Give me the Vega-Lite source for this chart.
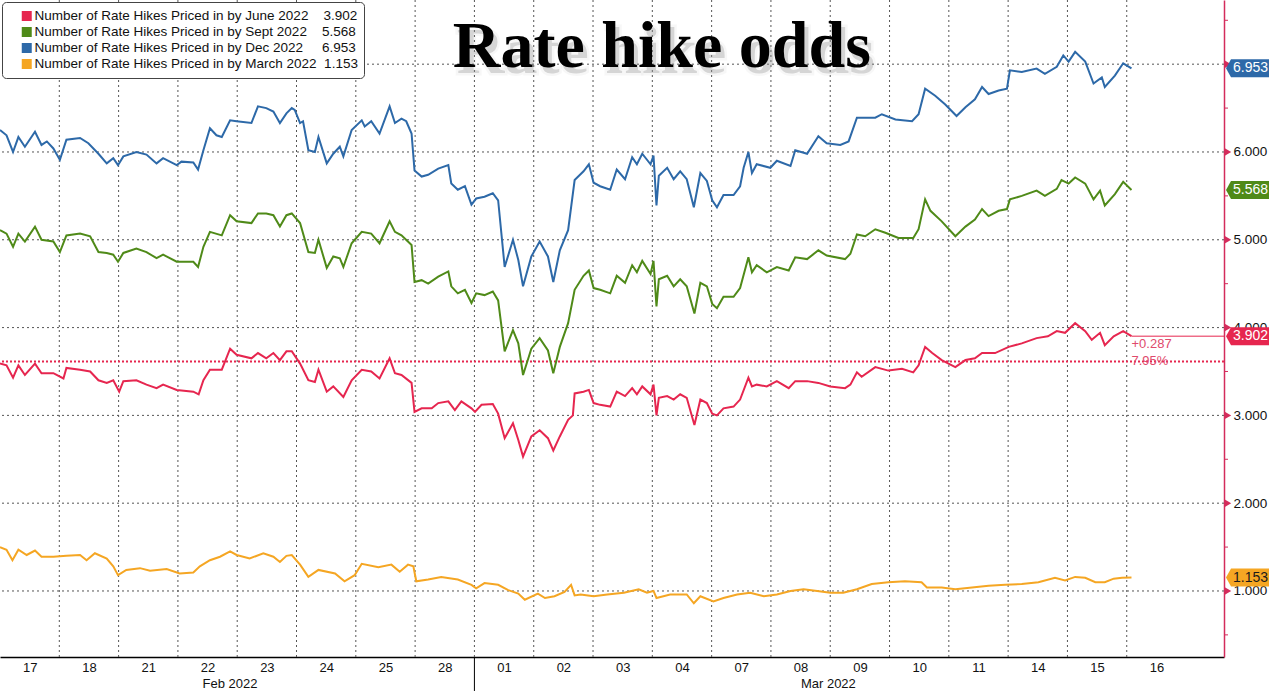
{
  "$schema": "https://vega.github.io/schema/vega-lite/v6.json",
  "width": 1224,
  "height": 657,
  "autosize": {"type": "none"},
  "padding": {"left": 0, "top": 0, "right": 45, "bottom": 34},
  "background": "white",
  "config": {"view": {"stroke": null}, "font": "Liberation Sans"},
  "resolve": {"axis": {"x": "independent", "y": "independent"}},
  "datasets": {
    "last": [
      {"s": "June 2022", "last": 3.902, "edge": 20.64},
      {"s": "Sept 2022", "last": 5.568, "edge": 20.64},
      {"s": "Dec 2022", "last": 6.953, "edge": 20.64},
      {"s": "March 2022", "last": 1.153, "edge": 20.64}
    ],
    "headline": [{"t": 11.16, "v": 6.968, "txt": "Rate hike odds"}],
    "series": [
      {"s":"Dec 2022","t":0,"v":6.25},{"s":"Dec 2022","t":0.11,"v":6.19},{"s":"Dec 2022","t":0.22,"v":6.0},{"s":"Dec 2022","t":0.31,"v":6.17},{"s":"Dec 2022","t":0.42,"v":6.06},{"s":"Dec 2022","t":0.59,"v":6.23},{"s":"Dec 2022","t":0.7,"v":6.08},{"s":"Dec 2022","t":0.79,"v":6.12},{"s":"Dec 2022","t":0.9,"v":6.04},{"s":"Dec 2022","t":1.01,"v":5.91},{"s":"Dec 2022","t":1.12,"v":6.14},{"s":"Dec 2022","t":1.35,"v":6.16},{"s":"Dec 2022","t":1.49,"v":6.1},{"s":"Dec 2022","t":1.66,"v":5.98},{"s":"Dec 2022","t":1.8,"v":5.87},{"s":"Dec 2022","t":1.91,"v":5.93},{"s":"Dec 2022","t":1.99,"v":5.85},{"s":"Dec 2022","t":2.08,"v":5.95},{"s":"Dec 2022","t":2.3,"v":6.0},{"s":"Dec 2022","t":2.47,"v":5.97},{"s":"Dec 2022","t":2.64,"v":5.87},{"s":"Dec 2022","t":2.75,"v":5.93},{"s":"Dec 2022","t":2.98,"v":5.85},{"s":"Dec 2022","t":3.06,"v":5.89},{"s":"Dec 2022","t":3.26,"v":5.88},{"s":"Dec 2022","t":3.34,"v":5.8},{"s":"Dec 2022","t":3.43,"v":6.02},{"s":"Dec 2022","t":3.54,"v":6.27},{"s":"Dec 2022","t":3.65,"v":6.19},{"s":"Dec 2022","t":3.74,"v":6.17},{"s":"Dec 2022","t":3.88,"v":6.36},{"s":"Dec 2022","t":3.99,"v":6.35},{"s":"Dec 2022","t":4.24,"v":6.33},{"s":"Dec 2022","t":4.35,"v":6.52},{"s":"Dec 2022","t":4.49,"v":6.5},{"s":"Dec 2022","t":4.61,"v":6.46},{"s":"Dec 2022","t":4.72,"v":6.33},{"s":"Dec 2022","t":4.83,"v":6.44},{"s":"Dec 2022","t":4.92,"v":6.5},{"s":"Dec 2022","t":4.97,"v":6.48},{"s":"Dec 2022","t":5.06,"v":6.33},{"s":"Dec 2022","t":5.11,"v":6.35},{"s":"Dec 2022","t":5.2,"v":6.02},{"s":"Dec 2022","t":5.31,"v":6.0},{"s":"Dec 2022","t":5.37,"v":6.17},{"s":"Dec 2022","t":5.51,"v":5.87},{"s":"Dec 2022","t":5.62,"v":5.98},{"s":"Dec 2022","t":5.73,"v":6.06},{"s":"Dec 2022","t":5.79,"v":5.95},{"s":"Dec 2022","t":5.93,"v":6.25},{"s":"Dec 2022","t":6.1,"v":6.36},{"s":"Dec 2022","t":6.15,"v":6.29},{"s":"Dec 2022","t":6.26,"v":6.35},{"s":"Dec 2022","t":6.4,"v":6.21},{"s":"Dec 2022","t":6.57,"v":6.52},{"s":"Dec 2022","t":6.66,"v":6.33},{"s":"Dec 2022","t":6.77,"v":6.38},{"s":"Dec 2022","t":6.85,"v":6.35},{"s":"Dec 2022","t":6.94,"v":6.21},{"s":"Dec 2022","t":6.99,"v":5.79},{"s":"Dec 2022","t":7.11,"v":5.72},{"s":"Dec 2022","t":7.22,"v":5.74},{"s":"Dec 2022","t":7.39,"v":5.81},{"s":"Dec 2022","t":7.56,"v":5.85},{"s":"Dec 2022","t":7.61,"v":5.64},{"s":"Dec 2022","t":7.72,"v":5.57},{"s":"Dec 2022","t":7.84,"v":5.61},{"s":"Dec 2022","t":7.95,"v":5.4},{"s":"Dec 2022","t":8.03,"v":5.47},{"s":"Dec 2022","t":8.17,"v":5.49},{"s":"Dec 2022","t":8.31,"v":5.53},{"s":"Dec 2022","t":8.4,"v":5.45},{"s":"Dec 2022","t":8.51,"v":4.69},{"s":"Dec 2022","t":8.65,"v":5.0},{"s":"Dec 2022","t":8.74,"v":4.77},{"s":"Dec 2022","t":8.82,"v":4.47},{"s":"Dec 2022","t":8.96,"v":4.81},{"s":"Dec 2022","t":9.1,"v":4.98},{"s":"Dec 2022","t":9.24,"v":4.81},{"s":"Dec 2022","t":9.33,"v":4.52},{"s":"Dec 2022","t":9.44,"v":4.88},{"s":"Dec 2022","t":9.58,"v":5.11},{"s":"Dec 2022","t":9.69,"v":5.68},{"s":"Dec 2022","t":9.84,"v":5.78},{"s":"Dec 2022","t":9.93,"v":5.86},{"s":"Dec 2022","t":10.01,"v":5.65},{"s":"Dec 2022","t":10.12,"v":5.61},{"s":"Dec 2022","t":10.29,"v":5.57},{"s":"Dec 2022","t":10.4,"v":5.8},{"s":"Dec 2022","t":10.54,"v":5.69},{"s":"Dec 2022","t":10.66,"v":5.94},{"s":"Dec 2022","t":10.74,"v":5.86},{"s":"Dec 2022","t":10.83,"v":5.98},{"s":"Dec 2022","t":10.97,"v":5.86},{"s":"Dec 2022","t":11.02,"v":5.96},{"s":"Dec 2022","t":11.07,"v":5.39},{"s":"Dec 2022","t":11.11,"v":5.73},{"s":"Dec 2022","t":11.25,"v":5.82},{"s":"Dec 2022","t":11.36,"v":5.69},{"s":"Dec 2022","t":11.47,"v":5.78},{"s":"Dec 2022","t":11.58,"v":5.69},{"s":"Dec 2022","t":11.7,"v":5.37},{"s":"Dec 2022","t":11.81,"v":5.76},{"s":"Dec 2022","t":11.92,"v":5.67},{"s":"Dec 2022","t":12.01,"v":5.45},{"s":"Dec 2022","t":12.09,"v":5.37},{"s":"Dec 2022","t":12.2,"v":5.51},{"s":"Dec 2022","t":12.37,"v":5.51},{"s":"Dec 2022","t":12.48,"v":5.61},{"s":"Dec 2022","t":12.54,"v":5.82},{"s":"Dec 2022","t":12.62,"v":6.0},{"s":"Dec 2022","t":12.68,"v":5.76},{"s":"Dec 2022","t":12.76,"v":5.86},{"s":"Dec 2022","t":12.99,"v":5.82},{"s":"Dec 2022","t":13.1,"v":5.9},{"s":"Dec 2022","t":13.33,"v":5.84},{"s":"Dec 2022","t":13.41,"v":6.02},{"s":"Dec 2022","t":13.61,"v":5.98},{"s":"Dec 2022","t":13.8,"v":6.18},{"s":"Dec 2022","t":13.94,"v":6.1},{"s":"Dec 2022","t":14.17,"v":6.08},{"s":"Dec 2022","t":14.31,"v":6.12},{"s":"Dec 2022","t":14.45,"v":6.39},{"s":"Dec 2022","t":14.53,"v":6.39},{"s":"Dec 2022","t":14.76,"v":6.39},{"s":"Dec 2022","t":14.87,"v":6.43},{"s":"Dec 2022","t":15.1,"v":6.37},{"s":"Dec 2022","t":15.38,"v":6.35},{"s":"Dec 2022","t":15.49,"v":6.43},{"s":"Dec 2022","t":15.6,"v":6.72},{"s":"Dec 2022","t":15.77,"v":6.64},{"s":"Dec 2022","t":15.94,"v":6.54},{"s":"Dec 2022","t":16.13,"v":6.41},{"s":"Dec 2022","t":16.28,"v":6.51},{"s":"Dec 2022","t":16.44,"v":6.6},{"s":"Dec 2022","t":16.56,"v":6.74},{"s":"Dec 2022","t":16.67,"v":6.66},{"s":"Dec 2022","t":16.84,"v":6.7},{"s":"Dec 2022","t":16.98,"v":6.72},{"s":"Dec 2022","t":17.03,"v":6.93},{"s":"Dec 2022","t":17.23,"v":6.91},{"s":"Dec 2022","t":17.48,"v":6.95},{"s":"Dec 2022","t":17.62,"v":6.89},{"s":"Dec 2022","t":17.82,"v":6.97},{"s":"Dec 2022","t":17.93,"v":7.1},{"s":"Dec 2022","t":18.02,"v":7.03},{"s":"Dec 2022","t":18.13,"v":7.14},{"s":"Dec 2022","t":18.3,"v":7.03},{"s":"Dec 2022","t":18.44,"v":6.78},{"s":"Dec 2022","t":18.58,"v":6.85},{"s":"Dec 2022","t":18.63,"v":6.74},{"s":"Dec 2022","t":18.8,"v":6.87},{"s":"Dec 2022","t":18.94,"v":7.01},{"s":"Dec 2022","t":19.08,"v":6.953},
      {"s":"Sept 2022","t":0,"v":5.11},{"s":"Sept 2022","t":0.11,"v":5.07},{"s":"Sept 2022","t":0.22,"v":4.92},{"s":"Sept 2022","t":0.31,"v":5.07},{"s":"Sept 2022","t":0.42,"v":4.98},{"s":"Sept 2022","t":0.59,"v":5.15},{"s":"Sept 2022","t":0.7,"v":5.0},{"s":"Sept 2022","t":0.9,"v":4.98},{"s":"Sept 2022","t":1.01,"v":4.86},{"s":"Sept 2022","t":1.12,"v":5.05},{"s":"Sept 2022","t":1.35,"v":5.07},{"s":"Sept 2022","t":1.52,"v":5.04},{"s":"Sept 2022","t":1.66,"v":4.86},{"s":"Sept 2022","t":1.8,"v":4.85},{"s":"Sept 2022","t":1.91,"v":4.83},{"s":"Sept 2022","t":1.99,"v":4.75},{"s":"Sept 2022","t":2.08,"v":4.85},{"s":"Sept 2022","t":2.3,"v":4.9},{"s":"Sept 2022","t":2.47,"v":4.86},{"s":"Sept 2022","t":2.64,"v":4.79},{"s":"Sept 2022","t":2.75,"v":4.83},{"s":"Sept 2022","t":2.98,"v":4.75},{"s":"Sept 2022","t":3.26,"v":4.75},{"s":"Sept 2022","t":3.34,"v":4.69},{"s":"Sept 2022","t":3.43,"v":4.92},{"s":"Sept 2022","t":3.54,"v":5.09},{"s":"Sept 2022","t":3.74,"v":5.05},{"s":"Sept 2022","t":3.88,"v":5.28},{"s":"Sept 2022","t":3.99,"v":5.21},{"s":"Sept 2022","t":4.24,"v":5.19},{"s":"Sept 2022","t":4.35,"v":5.3},{"s":"Sept 2022","t":4.49,"v":5.3},{"s":"Sept 2022","t":4.61,"v":5.28},{"s":"Sept 2022","t":4.72,"v":5.15},{"s":"Sept 2022","t":4.83,"v":5.28},{"s":"Sept 2022","t":4.92,"v":5.3},{"s":"Sept 2022","t":5.06,"v":5.19},{"s":"Sept 2022","t":5.2,"v":4.86},{"s":"Sept 2022","t":5.31,"v":4.85},{"s":"Sept 2022","t":5.37,"v":5.0},{"s":"Sept 2022","t":5.51,"v":4.68},{"s":"Sept 2022","t":5.62,"v":4.81},{"s":"Sept 2022","t":5.73,"v":4.79},{"s":"Sept 2022","t":5.79,"v":4.69},{"s":"Sept 2022","t":5.93,"v":4.96},{"s":"Sept 2022","t":6.1,"v":5.09},{"s":"Sept 2022","t":6.26,"v":5.07},{"s":"Sept 2022","t":6.4,"v":4.96},{"s":"Sept 2022","t":6.57,"v":5.21},{"s":"Sept 2022","t":6.66,"v":5.09},{"s":"Sept 2022","t":6.77,"v":5.05},{"s":"Sept 2022","t":6.94,"v":4.94},{"s":"Sept 2022","t":6.99,"v":4.52},{"s":"Sept 2022","t":7.11,"v":4.54},{"s":"Sept 2022","t":7.22,"v":4.5},{"s":"Sept 2022","t":7.39,"v":4.58},{"s":"Sept 2022","t":7.56,"v":4.64},{"s":"Sept 2022","t":7.61,"v":4.47},{"s":"Sept 2022","t":7.72,"v":4.39},{"s":"Sept 2022","t":7.84,"v":4.43},{"s":"Sept 2022","t":7.95,"v":4.28},{"s":"Sept 2022","t":8.03,"v":4.39},{"s":"Sept 2022","t":8.17,"v":4.37},{"s":"Sept 2022","t":8.31,"v":4.41},{"s":"Sept 2022","t":8.4,"v":4.31},{"s":"Sept 2022","t":8.51,"v":3.73},{"s":"Sept 2022","t":8.65,"v":3.97},{"s":"Sept 2022","t":8.74,"v":3.82},{"s":"Sept 2022","t":8.82,"v":3.46},{"s":"Sept 2022","t":8.96,"v":3.76},{"s":"Sept 2022","t":9.1,"v":3.88},{"s":"Sept 2022","t":9.24,"v":3.74},{"s":"Sept 2022","t":9.33,"v":3.48},{"s":"Sept 2022","t":9.44,"v":3.78},{"s":"Sept 2022","t":9.58,"v":4.05},{"s":"Sept 2022","t":9.69,"v":4.43},{"s":"Sept 2022","t":9.84,"v":4.59},{"s":"Sept 2022","t":9.93,"v":4.65},{"s":"Sept 2022","t":10.01,"v":4.45},{"s":"Sept 2022","t":10.12,"v":4.43},{"s":"Sept 2022","t":10.29,"v":4.39},{"s":"Sept 2022","t":10.4,"v":4.59},{"s":"Sept 2022","t":10.54,"v":4.51},{"s":"Sept 2022","t":10.66,"v":4.71},{"s":"Sept 2022","t":10.74,"v":4.63},{"s":"Sept 2022","t":10.83,"v":4.76},{"s":"Sept 2022","t":10.97,"v":4.61},{"s":"Sept 2022","t":11.02,"v":4.76},{"s":"Sept 2022","t":11.07,"v":4.24},{"s":"Sept 2022","t":11.11,"v":4.55},{"s":"Sept 2022","t":11.25,"v":4.59},{"s":"Sept 2022","t":11.36,"v":4.47},{"s":"Sept 2022","t":11.47,"v":4.55},{"s":"Sept 2022","t":11.58,"v":4.47},{"s":"Sept 2022","t":11.71,"v":4.16},{"s":"Sept 2022","t":11.81,"v":4.51},{"s":"Sept 2022","t":11.92,"v":4.47},{"s":"Sept 2022","t":12.01,"v":4.27},{"s":"Sept 2022","t":12.09,"v":4.22},{"s":"Sept 2022","t":12.2,"v":4.35},{"s":"Sept 2022","t":12.37,"v":4.35},{"s":"Sept 2022","t":12.48,"v":4.45},{"s":"Sept 2022","t":12.62,"v":4.8},{"s":"Sept 2022","t":12.68,"v":4.63},{"s":"Sept 2022","t":12.76,"v":4.71},{"s":"Sept 2022","t":12.93,"v":4.63},{"s":"Sept 2022","t":13.1,"v":4.69},{"s":"Sept 2022","t":13.3,"v":4.65},{"s":"Sept 2022","t":13.41,"v":4.8},{"s":"Sept 2022","t":13.61,"v":4.78},{"s":"Sept 2022","t":13.8,"v":4.88},{"s":"Sept 2022","t":13.94,"v":4.82},{"s":"Sept 2022","t":14.25,"v":4.78},{"s":"Sept 2022","t":14.34,"v":4.84},{"s":"Sept 2022","t":14.45,"v":5.06},{"s":"Sept 2022","t":14.59,"v":5.04},{"s":"Sept 2022","t":14.76,"v":5.12},{"s":"Sept 2022","t":14.93,"v":5.08},{"s":"Sept 2022","t":15.15,"v":5.02},{"s":"Sept 2022","t":15.4,"v":5.02},{"s":"Sept 2022","t":15.49,"v":5.12},{"s":"Sept 2022","t":15.6,"v":5.46},{"s":"Sept 2022","t":15.69,"v":5.33},{"s":"Sept 2022","t":15.88,"v":5.21},{"s":"Sept 2022","t":16.11,"v":5.04},{"s":"Sept 2022","t":16.28,"v":5.15},{"s":"Sept 2022","t":16.44,"v":5.23},{"s":"Sept 2022","t":16.56,"v":5.35},{"s":"Sept 2022","t":16.67,"v":5.27},{"s":"Sept 2022","t":16.84,"v":5.33},{"s":"Sept 2022","t":16.98,"v":5.35},{"s":"Sept 2022","t":17.03,"v":5.46},{"s":"Sept 2022","t":17.23,"v":5.5},{"s":"Sept 2022","t":17.48,"v":5.56},{"s":"Sept 2022","t":17.62,"v":5.5},{"s":"Sept 2022","t":17.82,"v":5.58},{"s":"Sept 2022","t":17.9,"v":5.68},{"s":"Sept 2022","t":18.02,"v":5.64},{"s":"Sept 2022","t":18.13,"v":5.71},{"s":"Sept 2022","t":18.3,"v":5.64},{"s":"Sept 2022","t":18.44,"v":5.46},{"s":"Sept 2022","t":18.55,"v":5.56},{"s":"Sept 2022","t":18.63,"v":5.39},{"s":"Sept 2022","t":18.8,"v":5.52},{"s":"Sept 2022","t":18.94,"v":5.66},{"s":"Sept 2022","t":19.08,"v":5.568},
      {"s":"June 2022","t":0,"v":3.59},{"s":"June 2022","t":0.11,"v":3.57},{"s":"June 2022","t":0.22,"v":3.43},{"s":"June 2022","t":0.31,"v":3.57},{"s":"June 2022","t":0.42,"v":3.46},{"s":"June 2022","t":0.59,"v":3.59},{"s":"June 2022","t":0.7,"v":3.48},{"s":"June 2022","t":0.9,"v":3.48},{"s":"June 2022","t":1.07,"v":3.42},{"s":"June 2022","t":1.12,"v":3.54},{"s":"June 2022","t":1.35,"v":3.52},{"s":"June 2022","t":1.52,"v":3.5},{"s":"June 2022","t":1.66,"v":3.4},{"s":"June 2022","t":1.8,"v":3.37},{"s":"June 2022","t":1.91,"v":3.4},{"s":"June 2022","t":2.01,"v":3.27},{"s":"June 2022","t":2.08,"v":3.39},{"s":"June 2022","t":2.3,"v":3.4},{"s":"June 2022","t":2.47,"v":3.35},{"s":"June 2022","t":2.64,"v":3.31},{"s":"June 2022","t":2.75,"v":3.35},{"s":"June 2022","t":2.98,"v":3.29},{"s":"June 2022","t":3.26,"v":3.27},{"s":"June 2022","t":3.35,"v":3.24},{"s":"June 2022","t":3.43,"v":3.4},{"s":"June 2022","t":3.54,"v":3.52},{"s":"June 2022","t":3.74,"v":3.52},{"s":"June 2022","t":3.88,"v":3.76},{"s":"June 2022","t":3.99,"v":3.69},{"s":"June 2022","t":4.24,"v":3.65},{"s":"June 2022","t":4.35,"v":3.71},{"s":"June 2022","t":4.49,"v":3.65},{"s":"June 2022","t":4.61,"v":3.71},{"s":"June 2022","t":4.72,"v":3.63},{"s":"June 2022","t":4.83,"v":3.73},{"s":"June 2022","t":4.92,"v":3.73},{"s":"June 2022","t":5.06,"v":3.59},{"s":"June 2022","t":5.2,"v":3.4},{"s":"June 2022","t":5.31,"v":3.38},{"s":"June 2022","t":5.37,"v":3.52},{"s":"June 2022","t":5.51,"v":3.27},{"s":"June 2022","t":5.62,"v":3.33},{"s":"June 2022","t":5.79,"v":3.21},{"s":"June 2022","t":5.93,"v":3.4},{"s":"June 2022","t":6.1,"v":3.52},{"s":"June 2022","t":6.26,"v":3.5},{"s":"June 2022","t":6.4,"v":3.42},{"s":"June 2022","t":6.57,"v":3.65},{"s":"June 2022","t":6.66,"v":3.48},{"s":"June 2022","t":6.77,"v":3.46},{"s":"June 2022","t":6.94,"v":3.37},{"s":"June 2022","t":6.99,"v":3.04},{"s":"June 2022","t":7.11,"v":3.08},{"s":"June 2022","t":7.28,"v":3.08},{"s":"June 2022","t":7.39,"v":3.14},{"s":"June 2022","t":7.56,"v":3.16},{"s":"June 2022","t":7.67,"v":3.06},{"s":"June 2022","t":7.78,"v":3.16},{"s":"June 2022","t":7.95,"v":3.08},{"s":"June 2022","t":8.01,"v":3.04},{"s":"June 2022","t":8.12,"v":3.12},{"s":"June 2022","t":8.31,"v":3.13},{"s":"June 2022","t":8.4,"v":3.02},{"s":"June 2022","t":8.51,"v":2.74},{"s":"June 2022","t":8.65,"v":2.91},{"s":"June 2022","t":8.74,"v":2.72},{"s":"June 2022","t":8.82,"v":2.53},{"s":"June 2022","t":8.96,"v":2.76},{"s":"June 2022","t":9.1,"v":2.83},{"s":"June 2022","t":9.24,"v":2.74},{"s":"June 2022","t":9.33,"v":2.6},{"s":"June 2022","t":9.44,"v":2.76},{"s":"June 2022","t":9.58,"v":2.95},{"s":"June 2022","t":9.66,"v":3.0},{"s":"June 2022","t":9.69,"v":3.25},{"s":"June 2022","t":9.84,"v":3.27},{"s":"June 2022","t":9.93,"v":3.29},{"s":"June 2022","t":10.01,"v":3.14},{"s":"June 2022","t":10.12,"v":3.12},{"s":"June 2022","t":10.29,"v":3.1},{"s":"June 2022","t":10.4,"v":3.27},{"s":"June 2022","t":10.54,"v":3.22},{"s":"June 2022","t":10.66,"v":3.31},{"s":"June 2022","t":10.74,"v":3.24},{"s":"June 2022","t":10.83,"v":3.33},{"s":"June 2022","t":10.97,"v":3.24},{"s":"June 2022","t":11.02,"v":3.35},{"s":"June 2022","t":11.07,"v":3.0},{"s":"June 2022","t":11.11,"v":3.2},{"s":"June 2022","t":11.25,"v":3.22},{"s":"June 2022","t":11.36,"v":3.18},{"s":"June 2022","t":11.47,"v":3.24},{"s":"June 2022","t":11.58,"v":3.2},{"s":"June 2022","t":11.71,"v":2.89},{"s":"June 2022","t":11.81,"v":3.18},{"s":"June 2022","t":11.92,"v":3.14},{"s":"June 2022","t":12.01,"v":3.02},{"s":"June 2022","t":12.09,"v":3.0},{"s":"June 2022","t":12.2,"v":3.08},{"s":"June 2022","t":12.37,"v":3.1},{"s":"June 2022","t":12.48,"v":3.18},{"s":"June 2022","t":12.62,"v":3.43},{"s":"June 2022","t":12.68,"v":3.33},{"s":"June 2022","t":12.76,"v":3.35},{"s":"June 2022","t":12.93,"v":3.33},{"s":"June 2022","t":13.1,"v":3.39},{"s":"June 2022","t":13.3,"v":3.31},{"s":"June 2022","t":13.41,"v":3.39},{"s":"June 2022","t":13.61,"v":3.39},{"s":"June 2022","t":13.8,"v":3.37},{"s":"June 2022","t":14.0,"v":3.33},{"s":"June 2022","t":14.25,"v":3.31},{"s":"June 2022","t":14.34,"v":3.35},{"s":"June 2022","t":14.45,"v":3.49},{"s":"June 2022","t":14.53,"v":3.44},{"s":"June 2022","t":14.76,"v":3.55},{"s":"June 2022","t":14.98,"v":3.51},{"s":"June 2022","t":15.21,"v":3.53},{"s":"June 2022","t":15.4,"v":3.49},{"s":"June 2022","t":15.49,"v":3.57},{"s":"June 2022","t":15.6,"v":3.78},{"s":"June 2022","t":15.72,"v":3.71},{"s":"June 2022","t":15.88,"v":3.63},{"s":"June 2022","t":16.11,"v":3.55},{"s":"June 2022","t":16.28,"v":3.63},{"s":"June 2022","t":16.44,"v":3.65},{"s":"June 2022","t":16.56,"v":3.71},{"s":"June 2022","t":16.78,"v":3.71},{"s":"June 2022","t":17.01,"v":3.78},{"s":"June 2022","t":17.23,"v":3.82},{"s":"June 2022","t":17.48,"v":3.88},{"s":"June 2022","t":17.67,"v":3.9},{"s":"June 2022","t":17.82,"v":3.96},{"s":"June 2022","t":17.96,"v":3.94},{"s":"June 2022","t":18.13,"v":4.05},{"s":"June 2022","t":18.3,"v":3.96},{"s":"June 2022","t":18.41,"v":3.86},{"s":"June 2022","t":18.55,"v":3.94},{"s":"June 2022","t":18.63,"v":3.8},{"s":"June 2022","t":18.78,"v":3.9},{"s":"June 2022","t":18.94,"v":3.96},{"s":"June 2022","t":19.08,"v":3.902},
      {"s":"March 2022","t":0,"v":1.5},{"s":"March 2022","t":0.11,"v":1.47},{"s":"March 2022","t":0.21,"v":1.35},{"s":"March 2022","t":0.31,"v":1.47},{"s":"March 2022","t":0.45,"v":1.41},{"s":"March 2022","t":0.59,"v":1.46},{"s":"March 2022","t":0.7,"v":1.39},{"s":"March 2022","t":0.9,"v":1.39},{"s":"March 2022","t":1.12,"v":1.4},{"s":"March 2022","t":1.35,"v":1.41},{"s":"March 2022","t":1.46,"v":1.35},{"s":"March 2022","t":1.6,"v":1.43},{"s":"March 2022","t":1.8,"v":1.37},{"s":"March 2022","t":1.91,"v":1.28},{"s":"March 2022","t":1.99,"v":1.18},{"s":"March 2022","t":2.13,"v":1.24},{"s":"March 2022","t":2.36,"v":1.26},{"s":"March 2022","t":2.53,"v":1.23},{"s":"March 2022","t":2.81,"v":1.25},{"s":"March 2022","t":3.03,"v":1.2},{"s":"March 2022","t":3.26,"v":1.21},{"s":"March 2022","t":3.37,"v":1.28},{"s":"March 2022","t":3.54,"v":1.35},{"s":"March 2022","t":3.71,"v":1.39},{"s":"March 2022","t":3.88,"v":1.45},{"s":"March 2022","t":3.99,"v":1.41},{"s":"March 2022","t":4.21,"v":1.37},{"s":"March 2022","t":4.44,"v":1.43},{"s":"March 2022","t":4.61,"v":1.39},{"s":"March 2022","t":4.72,"v":1.33},{"s":"March 2022","t":4.83,"v":1.4},{"s":"March 2022","t":4.92,"v":1.41},{"s":"March 2022","t":5.06,"v":1.3},{"s":"March 2022","t":5.2,"v":1.16},{"s":"March 2022","t":5.37,"v":1.24},{"s":"March 2022","t":5.65,"v":1.2},{"s":"March 2022","t":5.81,"v":1.11},{"s":"March 2022","t":5.98,"v":1.18},{"s":"March 2022","t":6.1,"v":1.31},{"s":"March 2022","t":6.38,"v":1.27},{"s":"March 2022","t":6.6,"v":1.3},{"s":"March 2022","t":6.74,"v":1.22},{"s":"March 2022","t":6.88,"v":1.3},{"s":"March 2022","t":6.97,"v":1.28},{"s":"March 2022","t":7.02,"v":1.11},{"s":"March 2022","t":7.22,"v":1.13},{"s":"March 2022","t":7.44,"v":1.16},{"s":"March 2022","t":7.72,"v":1.13},{"s":"March 2022","t":7.95,"v":1.07},{"s":"March 2022","t":8.03,"v":1.03},{"s":"March 2022","t":8.17,"v":1.09},{"s":"March 2022","t":8.4,"v":1.07},{"s":"March 2022","t":8.57,"v":1.01},{"s":"March 2022","t":8.74,"v":0.97},{"s":"March 2022","t":8.85,"v":0.9},{"s":"March 2022","t":9.07,"v":0.97},{"s":"March 2022","t":9.19,"v":0.92},{"s":"March 2022","t":9.35,"v":0.94},{"s":"March 2022","t":9.52,"v":0.99},{"s":"March 2022","t":9.63,"v":1.07},{"s":"March 2022","t":9.69,"v":0.95},{"s":"March 2022","t":9.79,"v":0.96},{"s":"March 2022","t":10.01,"v":0.94},{"s":"March 2022","t":10.24,"v":0.96},{"s":"March 2022","t":10.52,"v":0.98},{"s":"March 2022","t":10.77,"v":1.02},{"s":"March 2022","t":10.91,"v":0.98},{"s":"March 2022","t":11.02,"v":1.0},{"s":"March 2022","t":11.07,"v":0.92},{"s":"March 2022","t":11.3,"v":0.96},{"s":"March 2022","t":11.58,"v":0.96},{"s":"March 2022","t":11.7,"v":0.86},{"s":"March 2022","t":11.81,"v":0.94},{"s":"March 2022","t":12.03,"v":0.88},{"s":"March 2022","t":12.2,"v":0.92},{"s":"March 2022","t":12.43,"v":0.96},{"s":"March 2022","t":12.65,"v":0.98},{"s":"March 2022","t":12.88,"v":0.94},{"s":"March 2022","t":13.1,"v":0.96},{"s":"March 2022","t":13.33,"v":1.0},{"s":"March 2022","t":13.55,"v":1.02},{"s":"March 2022","t":13.78,"v":1.0},{"s":"March 2022","t":14.0,"v":0.98},{"s":"March 2022","t":14.22,"v":0.98},{"s":"March 2022","t":14.45,"v":1.02},{"s":"March 2022","t":14.7,"v":1.08},{"s":"March 2022","t":14.98,"v":1.1},{"s":"March 2022","t":15.26,"v":1.11},{"s":"March 2022","t":15.54,"v":1.1},{"s":"March 2022","t":15.63,"v":1.04},{"s":"March 2022","t":15.88,"v":1.04},{"s":"March 2022","t":16.11,"v":1.02},{"s":"March 2022","t":16.39,"v":1.04},{"s":"March 2022","t":16.67,"v":1.06},{"s":"March 2022","t":16.95,"v":1.07},{"s":"March 2022","t":17.23,"v":1.08},{"s":"March 2022","t":17.51,"v":1.1},{"s":"March 2022","t":17.79,"v":1.15},{"s":"March 2022","t":17.96,"v":1.12},{"s":"March 2022","t":18.13,"v":1.16},{"s":"March 2022","t":18.3,"v":1.15},{"s":"March 2022","t":18.47,"v":1.1},{"s":"March 2022","t":18.63,"v":1.1},{"s":"March 2022","t":18.78,"v":1.14},{"s":"March 2022","t":18.92,"v":1.15},{"s":"March 2022","t":19.08,"v":1.153}
    ]
  },
  "layer": [
    {
      "data": {"values": [{"g":1},{"g":2},{"g":3},{"g":4},{"g":5},{"g":6},{"g":7},{"g":8},{"g":9},{"g":10},{"g":11},{"g":12},{"g":13},{"g":14},{"g":15},{"g":16},{"g":17},{"g":18},{"g":19}]},
      "mark": {"type": "rule", "color": "#555555", "strokeDash": [2, 3], "strokeWidth": 1},
      "encoding": {
        "x": {
          "field": "g", "type": "quantitative",
          "scale": {"domain": [0, 20.64], "nice": false, "zero": false},
          "axis": {
            "title": null, "orient": "bottom",
            "values": [0.5,1.5,2.5,3.5,3.87,4.5,5.5,6.5,7.5,8.5,9.5,10.5,11.5,12.5,13.5,13.96,14.5,15.5,16.5,17.5,18.5,19.5],
            "labelExpr": "datum.value == 3.87 ? ['', 'Feb 2022'] : datum.value == 13.96 ? ['', 'Mar 2022'] : substring('1718212223242528010203040708091011141516', floor(datum.value) * 2, floor(datum.value) * 2 + 2)",
            "labelOverlap": false, "labelFlush": false, "labelBound": false,
            "labelFont": "Liberation Sans", "labelFontSize": 13, "labelColor": "#111111",
            "labelLineHeight": 16, "labelPadding": 4,
            "grid": false, "ticks": false,
            "domain": true, "domainColor": "#000000", "domainWidth": 1.5
          }
        }
      }
    },
    {
      "data": {"values": [{"h":1},{"h":2},{"h":3},{"h":4},{"h":5},{"h":6},{"h":7}]},
      "mark": {"type": "rule", "color": "#555555", "strokeDash": [2, 3], "strokeWidth": 1},
      "encoding": {
        "y": {
          "field": "h", "type": "quantitative",
          "scale": {"domain": [0.248, 7.731], "nice": false, "zero": false},
          "axis": {
            "title": null, "orient": "right",
            "values": [1,2,3,4,5,6,7],
            "labelExpr": "datum.value < 7 ? format(datum.value, '.3f') : ''",
            "labelOverlap": false, "labelFlush": false, "labelBound": false,
            "labelFont": "Liberation Sans", "labelFontSize": 13.5, "labelColor": "#111111", "labelPadding": 5,
            "grid": false,
            "ticks": true, "tickSize": 4, "tickColor": "#d42c5c", "tickWidth": 1,
            "domain": true, "domainColor": "#d42c5c", "domainWidth": 1.5
          }
        }
      }
    },
    {
      "data": {"values": [{"t": 8, "lo": -0.139, "hi": 0.248}]},
      "mark": {"type": "rule", "color": "#000000", "strokeWidth": 1, "clip": false},
      "encoding": {
        "x": {"field": "t", "type": "quantitative", "scale": {"domain": [0, 20.64], "nice": false, "zero": false}, "axis": null},
        "y": {"field": "lo", "type": "quantitative", "scale": {"domain": [0.248, 7.731], "nice": false, "zero": false}, "axis": null},
        "y2": {"field": "hi"}
      }
    },
    {
      "data": {"values": [{"ref": 3.615}]},
      "mark": {"type": "rule", "color": "#e6264f", "strokeDash": [2, 2], "strokeWidth": 2},
      "encoding": {
        "y": {"field": "ref", "type": "quantitative", "scale": {"domain": [0.248, 7.731], "nice": false, "zero": false}, "axis": null}
      }
    },
    {
      "data": {"name": "series"},
      "mark": {"type": "line", "strokeWidth": 2},
      "encoding": {
        "x": {"field": "t", "type": "quantitative", "scale": {"domain": [0, 20.64], "nice": false, "zero": false}, "axis": null},
        "y": {"field": "v", "type": "quantitative", "scale": {"domain": [0.248, 7.731], "nice": false, "zero": false}, "axis": null},
        "color": {
          "field": "s", "type": "nominal",
          "scale": {"domain": ["June 2022", "Sept 2022", "Dec 2022", "March 2022"], "range": ["#e6264f", "#4f8a18", "#2d69a8", "#f5a623"]},
          "legend": {
            "title": null, "orient": "top-left", "offset": 2,
            "symbolType": "square", "symbolSize": 25, "symbolStrokeWidth": 5, "symbolOffset": 12,
            "labelOffset": 1, "labelFont": "Liberation Sans", "labelFontSize": 13.5, "labelColor": "#111111", "labelLimit": 600,
            "rowPadding": 0, "clipHeight": 16, "padding": 6, "strokeColor": "#444444", "cornerRadius": 4, "fillColor": "#ffffff",
            "labelExpr": "'Number of Rate Hikes Priced in by ' + datum.label + (datum.label == 'June 2022' ? '\u00a0\u00a0\u00a0\u00a03.902' : datum.label == 'Sept 2022' ? '\u00a0\u00a0\u00a0\u00a05.568' : datum.label == 'Dec 2022' ? '\u00a0\u00a0\u00a0\u00a0\u00a06.953' : '\u00a0\u00a01.153')"
          }
        }
      }
    },
    {
      "data": {"values": [{"t": 19.08, "end": 20.64, "v": 3.902}]},
      "mark": {"type": "rule", "color": "#e6264f", "strokeWidth": 1},
      "encoding": {
        "x": {"field": "t", "type": "quantitative", "scale": {"domain": [0, 20.64], "nice": false, "zero": false}, "axis": null},
        "x2": {"field": "end"},
        "y": {"field": "v", "type": "quantitative", "scale": {"domain": [0.248, 7.731], "nice": false, "zero": false}, "axis": null}
      }
    },
    {
      "data": {"values": [{"t": 19.08, "v": 3.902, "txt": "+0.287"}]},
      "mark": {"type": "text", "align": "left", "baseline": "top", "dy": 2, "font": "Liberation Sans", "fontSize": 13, "color": "#e04a6c"},
      "encoding": {
        "x": {"field": "t", "type": "quantitative", "scale": {"domain": [0, 20.64], "nice": false, "zero": false}, "axis": null},
        "y": {"field": "v", "type": "quantitative", "scale": {"domain": [0.248, 7.731], "nice": false, "zero": false}, "axis": null},
        "text": {"field": "txt"}
      }
    },
    {
      "data": {"values": [{"t": 19.08, "v": 3.615, "txt": "7.95%"}]},
      "mark": {"type": "text", "align": "left", "baseline": "middle", "font": "Liberation Sans", "fontSize": 13, "color": "#e04a6c"},
      "encoding": {
        "x": {"field": "t", "type": "quantitative", "scale": {"domain": [0, 20.64], "nice": false, "zero": false}, "axis": null},
        "y": {"field": "v", "type": "quantitative", "scale": {"domain": [0.248, 7.731], "nice": false, "zero": false}, "axis": null},
        "text": {"field": "txt"}
      }
    },
    {
      "data": {"values": [{"m":0.5,"edge":20.64},{"m":1.5,"edge":20.64},{"m":2.5,"edge":20.64},{"m":3.5,"edge":20.64},{"m":4.5,"edge":20.64},{"m":5.5,"edge":20.64},{"m":6.5,"edge":20.64},{"m":7.5,"edge":20.64}]},
      "mark": {"type": "point", "shape": "stroke", "size": 16, "filled": false, "opacity": 1, "color": "#d42c5c", "strokeWidth": 1, "xOffset": 2},
      "encoding": {
        "x": {"field": "edge", "type": "quantitative", "scale": {"domain": [0, 20.64], "nice": false, "zero": false}, "axis": null},
        "y": {"field": "m", "type": "quantitative", "scale": {"domain": [0.248, 7.731], "nice": false, "zero": false}, "axis": null}
      }
    },
    {
      "data": {"values": [{"tick":1,"edge":20.64},{"tick":2,"edge":20.64},{"tick":3,"edge":20.64},{"tick":4,"edge":20.64},{"tick":5,"edge":20.64},{"tick":6,"edge":20.64},{"tick":7,"edge":20.64}]},
      "mark": {"type": "point", "shape": "triangle-right", "size": 55, "filled": true, "opacity": 1, "color": "#d42c5c", "xOffset": 4},
      "encoding": {
        "x": {"field": "edge", "type": "quantitative", "scale": {"domain": [0, 20.64], "nice": false, "zero": false}, "axis": null},
        "y": {"field": "tick", "type": "quantitative", "scale": {"domain": [0.248, 7.731], "nice": false, "zero": false}, "axis": null}
      }
    },
    {
      "data": {"name": "last"},
      "mark": {"type": "point", "shape": "M 0.2 0 L 0.7 -0.9 L 4.5 -0.9 L 4.5 0.9 L 0.7 0.9 Z", "size": 400, "filled": true, "opacity": 1, "strokeWidth": 0},
      "encoding": {
        "x": {"field": "edge", "type": "quantitative", "scale": {"domain": [0, 20.64], "nice": false, "zero": false}, "axis": null},
        "y": {"field": "last", "type": "quantitative", "scale": {"domain": [0.248, 7.731], "nice": false, "zero": false}, "axis": null},
        "color": {"field": "s", "type": "nominal", "legend": null}
      }
    },
    {
      "data": {"name": "last"},
      "mark": {"type": "text", "align": "left", "baseline": "middle", "dx": 9, "font": "Liberation Sans", "fontSize": 14},
      "encoding": {
        "x": {"field": "edge", "type": "quantitative", "scale": {"domain": [0, 20.64], "nice": false, "zero": false}, "axis": null},
        "y": {"field": "last", "type": "quantitative", "scale": {"domain": [0.248, 7.731], "nice": false, "zero": false}, "axis": null},
        "text": {"field": "last", "type": "quantitative", "format": ".3f"},
        "color": {"condition": {"test": "datum.s == 'March 2022'", "value": "#1a1a1a"}, "value": "#ffffff"}
      }
    },
    {
      "data": {"name": "headline"},
      "mark": {"type": "text", "align": "center", "baseline": "alphabetic", "dx": 4, "dy": 6, "font": "Liberation Serif", "fontSize": 66, "fontWeight": "bold", "color": "#8a8a8a", "opacity": 0.35, "stroke": "#8a8a8a", "strokeWidth": 5, "strokeOpacity": 0.18},
      "encoding": {
        "x": {"field": "t", "type": "quantitative", "scale": {"domain": [0, 20.64], "nice": false, "zero": false}, "axis": null},
        "y": {"field": "v", "type": "quantitative", "scale": {"domain": [0.248, 7.731], "nice": false, "zero": false}, "axis": null},
        "text": {"field": "txt"}
      }
    },
    {
      "data": {"name": "headline"},
      "mark": {"type": "text", "align": "center", "baseline": "alphabetic", "font": "Liberation Serif", "fontSize": 66, "fontWeight": "bold", "color": "#000000"},
      "encoding": {
        "x": {"field": "t", "type": "quantitative", "scale": {"domain": [0, 20.64], "nice": false, "zero": false}, "axis": null},
        "y": {"field": "v", "type": "quantitative", "scale": {"domain": [0.248, 7.731], "nice": false, "zero": false}, "axis": null},
        "text": {"field": "txt"}
      }
    }
  ]
}
